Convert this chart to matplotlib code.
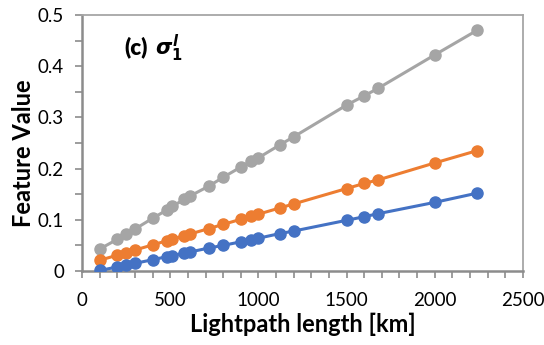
import matplotlib
matplotlib.use("Agg")
import matplotlib.pyplot as plt
from matplotlib.ticker import MultipleLocator

# lightpath lengths [km]
lengths = [100, 200, 250, 300, 400, 480, 510, 580, 610, 720, 800, 900,
           960, 1000, 1120, 1200, 1500, 1600, 1680, 2000, 2240]

# feature values, one list per series
blue_vals = [0.001, 0.008, 0.012, 0.015, 0.022, 0.028, 0.030, 0.035, 0.037,
             0.045, 0.050, 0.057, 0.061, 0.064, 0.073, 0.078, 0.099, 0.106,
             0.112, 0.134, 0.152]
orange_vals = [0.021, 0.031, 0.036, 0.041, 0.051, 0.059, 0.062, 0.069, 0.072,
               0.083, 0.091, 0.101, 0.107, 0.111, 0.123, 0.131, 0.161, 0.171,
               0.178, 0.211, 0.235]
gray_vals = [0.043, 0.062, 0.072, 0.082, 0.103, 0.119, 0.126, 0.140, 0.146,
             0.166, 0.183, 0.203, 0.215, 0.221, 0.246, 0.262, 0.324, 0.342,
             0.357, 0.422, 0.470]

plt.rcParams['font.family'] = ['Lato', 'DejaVu Sans']
plt.rcParams['mathtext.fontset'] = 'custom'
plt.rcParams['mathtext.it'] = 'DejaVu Sans:italic:bold'
plt.rcParams['mathtext.rm'] = 'DejaVu Sans:bold'

fig = plt.figure(figsize=(5.44, 3.45), dpi=100)
ax = fig.add_axes([0.151, 0.2145, 0.81, 0.742])

for vals, col in [(gray_vals, '#A5A5A5'), (orange_vals, '#ED7D31'), (blue_vals, '#4472C4')]:
    ax.plot(lengths, vals, color=col, lw=2.2, marker='o', ms=8, zorder=3)

ax.set_xlim(0, 2500)
ax.set_ylim(0, 0.5)
ax.xaxis.set_major_locator(MultipleLocator(500))
ax.xaxis.set_minor_locator(MultipleLocator(100))
ax.yaxis.set_minor_locator(MultipleLocator(0.05))
ax.set_yticks([0, 0.1, 0.2, 0.3, 0.4, 0.5])
ax.set_yticklabels(['0', '0.1', '0.2', '0.3', '0.4', '0.5'])

for s in ax.spines.values():
    s.set_color('#A6A6A6')
    s.set_linewidth(1.3)
ax.spines['left'].set_color('#8C8C8C')
ax.spines['bottom'].set_color('#8C8C8C')
ax.spines['left'].set_linewidth(1.8)
ax.spines['bottom'].set_linewidth(1.8)

ax.tick_params(which='both', direction='out', length=5, width=1.2, color='#8C8C8C',
               labelsize=13.5, labelcolor='black')
ax.tick_params(axis='x', pad=10)
ax.tick_params(axis='y', pad=8)

ax.set_xlabel('Lightpath length [km]', fontsize=17, fontweight='bold', labelpad=3)
ax.set_ylabel('Feature Value', fontsize=17, fontweight='bold')
ax.yaxis.set_label_coords(-0.108, 0.46)

ax.text(0.095, 0.875, '(c)', transform=ax.transAxes,
        fontsize=16, fontweight='heavy', va='center', ha='left')
ax.text(0.166, 0.87, r'$\sigma^{l}_{1}$', transform=ax.transAxes,
        fontsize=15, va='center', ha='left')

fig.savefig('out.png', dpi=100)
